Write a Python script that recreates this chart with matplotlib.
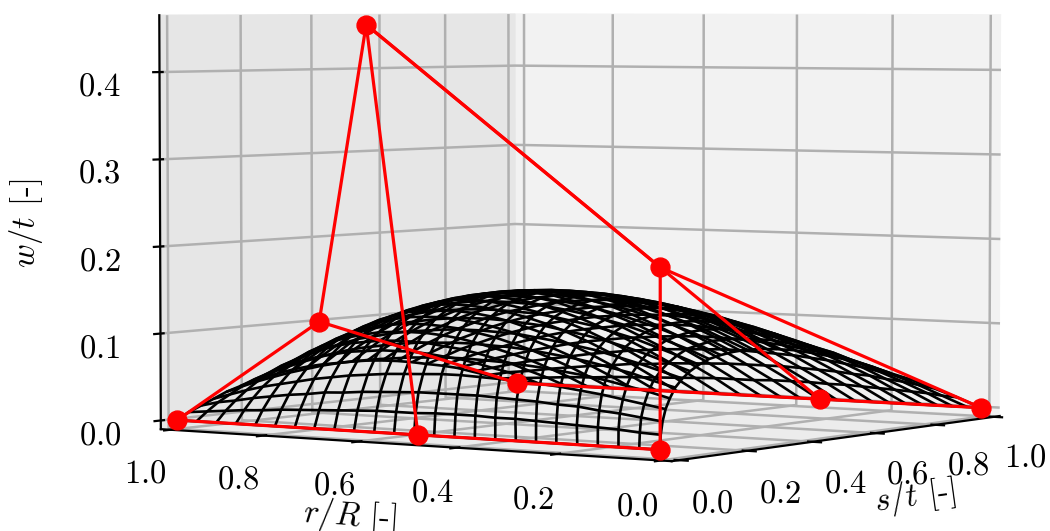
import numpy as np
import matplotlib
matplotlib.use("Agg")
import matplotlib.pyplot as plt

plt.rcParams['font.family'] = ['cmr10']
plt.rcParams['mathtext.fontset'] = 'cm'
plt.rcParams['axes.formatter.use_mathtext'] = True
plt.rcParams['axes.unicode_minus'] = False
plt.rcParams['font.size'] = 23.5
plt.rcParams['grid.linewidth'] = 1.8
plt.rcParams['axes.linewidth'] = 1.6
plt.rcParams['xtick.major.width'] = 1.6
plt.rcParams['ytick.major.width'] = 1.6

# control net
s_net = [[0, 0, 0], [0, 0, 0], [1, 1, 1]]
r_net = [[1.002, 0.493, 0.015], [0.697, 0.598, 0.015], [1.002, 0.337, 0.005]]
w_net = [[0, 0, 0], [0.121, 0.455, 0.196], [0, 0, 0]]

# surface mesh: s per row, r and w in thousandths
s_rows = [0, .0017, .0069, .0156, .0278, .0434, .0625, .0851, .1111, .1406, .1736, .2101, .25,
          .2934, .3403, .3906, .4444, .5017, .5625, .6267, .6944, .7656, .8403, .9184, 1]
r_mesh = [
    [1002,960,917,875,833,791,749,708,666,625,583,542,501,460,419,378,337,296,256,216,175,135,95,55,15],
    [978,938,898,858,819,779,739,699,659,619,579,539,499,459,418,378,338,298,257,217,177,136,96,55,15],
    [955,918,881,843,805,767,729,691,652,613,575,536,497,457,418,378,339,299,259,218,178,137,97,56,15],
    [935,900,864,829,793,756,720,683,646,608,570,533,494,456,417,378,339,299,259,219,179,138,97,56,15],
    [917,884,850,816,781,746,711,675,639,603,566,529,492,454,416,377,339,299,260,220,180,139,98,56,15],
    [901,869,837,804,771,737,703,669,634,598,562,526,489,452,415,377,338,299,260,220,180,139,98,57,15],
    [888,857,826,794,762,729,696,663,628,594,559,523,487,450,413,375,337,299,260,220,180,139,98,56,14],
    [876,846,816,785,754,722,690,657,623,589,555,520,484,448,411,374,336,298,259,219,179,139,98,56,14],
    [866,837,808,778,747,716,684,652,619,585,551,516,481,445,409,372,335,297,258,219,179,138,97,56,14],
    [859,831,801,772,741,711,679,647,615,581,548,513,478,443,407,370,333,295,256,217,178,138,97,56,14],
    [854,825,796,767,737,706,675,643,611,578,544,510,475,440,404,368,331,293,255,216,177,137,96,55,13],
    [851,822,793,763,733,703,671,640,607,574,541,507,472,437,401,365,328,291,253,214,175,135,95,54,13],
    [849,821,791,761,731,700,669,637,604,571,537,503,469,434,398,362,325,288,250,212,173,134,94,53,12],
    [851,821,791,760,729,699,666,635,601,568,535,500,465,430,394,359,322,285,248,209,171,131,92,52,12],
    [854,823,792,761,730,697,665,632,599,565,531,497,461,426,391,355,319,281,244,206,169,130,91,51,11],
    [859,828,795,764,730,698,664,631,598,562,529,493,458,423,387,351,315,278,240,203,166,128,89,51,12],
    [866,833,800,766,733,699,664,630,595,560,525,490,454,419,383,346,310,273,236,199,162,125,87,49,11],
    [876,841,806,771,736,701,665,630,594,558,523,487,451,414,378,342,305,269,232,195,159,122,84,47,10],
    [888,851,814,777,740,703,667,630,593,556,520,483,447,410,373,337,300,264,227,191,155,118,82,46,9],
    [901,862,823,784,746,707,669,631,593,555,517,480,442,405,368,332,295,259,222,186,151,115,79,44,9],
    [917,875,834,793,752,712,672,632,593,553,515,476,438,401,363,326,289,253,217,181,146,111,76,42,8],
    [935,891,847,803,760,717,675,634,593,552,512,473,434,396,358,320,283,247,211,176,141,107,73,40,7],
    [955,908,861,814,769,724,680,636,593,551,510,469,429,390,352,314,277,241,205,170,136,103,70,38,7],
    [978,926,876,827,779,731,685,639,594,551,508,466,425,385,346,308,270,234,199,164,131,98,66,36,6],
    [1002,947,893,841,790,739,690,642,596,550,506,462,420,379,339,301,263,227,192,158,125,93,63,33,5],
]
w_mesh = [
    [0,0,0,0,0,0,0,0,0,0,0,0,0,0,0,0,0,0,0,0,0,0,0,0,0],
    [10,12,14,16,17,19,20,21,22,23,24,24,24,25,25,25,24,24,23,22,21,20,19,17,16],
    [18,23,26,30,33,36,38,41,42,44,45,46,47,47,47,47,46,45,44,42,41,38,36,33,30],
    [26,32,38,43,47,51,55,58,61,63,65,66,67,68,68,67,66,65,63,61,58,55,51,47,43],
    [34,41,48,54,60,65,70,74,77,80,82,84,85,86,86,85,84,82,80,77,74,70,65,60,54],
    [40,49,57,64,71,77,83,88,92,95,98,100,101,102,102,101,100,98,95,92,88,83,78,71,65],
    [45,55,65,73,81,88,94,100,104,108,111,113,115,116,116,115,114,111,108,104,100,94,88,81,74],
    [50,61,71,81,89,97,104,110,115,119,122,125,127,128,128,127,125,123,119,115,110,104,97,89,81],
    [54,66,77,87,96,104,112,118,123,128,132,134,136,137,137,136,135,132,128,124,118,112,104,96,87],
    [57,69,81,92,101,110,118,124,130,135,139,142,144,145,145,144,142,139,135,130,125,118,110,102,92],
    [59,72,84,95,105,114,122,129,135,140,144,147,149,150,150,149,147,144,140,135,129,122,114,105,95],
    [60,73,86,97,107,116,125,132,138,143,147,150,152,153,153,152,150,147,143,138,132,125,117,108,97],
    [60,74,86,98,108,117,125,133,139,144,148,151,153,154,154,153,151,148,144,139,133,126,118,108,98],
    [60,73,86,97,107,116,125,132,138,143,147,150,152,153,153,152,150,147,143,138,132,125,117,108,97],
    [59,72,84,95,105,114,122,129,135,140,144,147,149,150,150,149,147,144,140,135,129,122,114,105,95],
    [57,69,81,92,101,110,118,124,130,135,139,142,144,145,145,144,142,139,135,130,125,118,110,102,92],
    [54,66,77,87,96,104,112,118,123,128,132,134,136,137,137,136,135,132,128,124,118,112,104,96,87],
    [50,61,71,81,89,97,104,110,115,119,122,125,127,128,128,127,125,123,119,115,110,104,97,89,81],
    [45,55,65,73,81,88,94,100,104,108,111,113,115,116,116,115,114,111,108,104,100,94,88,81,74],
    [40,49,57,64,71,77,83,88,92,95,98,100,101,102,102,101,100,98,95,92,88,83,78,71,65],
    [34,41,48,54,60,65,70,74,77,80,82,84,85,86,86,85,84,82,80,77,74,70,65,60,54],
    [26,32,38,43,47,51,55,58,61,63,65,66,67,68,68,67,66,65,63,61,58,55,51,47,43],
    [18,23,26,30,33,36,38,41,42,44,45,46,47,47,47,47,46,45,44,42,41,38,36,33,30],
    [10,12,14,16,17,19,20,21,22,23,24,24,24,25,25,25,24,24,23,22,21,20,19,17,16],
    [0,0,0,0,0,0,0,0,0,0,0,0,0,0,0,0,0,0,0,0,0,0,0,0,0],
]
st_ticks = [0, .2, .4, .6, .8, 1.0]
rR_ticks = [0, .2, .4, .6, .8, 1.0]
wt_ticks = [0, .1, .2, .3, .4]


def main():
    fig = plt.figure(figsize=(10.5, 5.31), dpi=100)
    size = 919.11
    ax = fig.add_axes([114.84/1050, -160.10/531, size/1050, size/531], projection='3d', computed_zorder=False)
    ax.view_init(elev=2.5, azim=-145.5)
    ax.set_box_aspect((4, 4, 2.7))
    ax.set_xlim(-1/48, 1 + 1/48)
    ax.set_ylim(-1/48, 1 + 1/48)
    ax.set_zlim(-.01, .465)
    ax.set_xticks(st_ticks)
    ax.set_yticks(rR_ticks)
    ax.set_zticks(wt_ticks)
    for axis, c in zip((ax.xaxis, ax.yaxis, ax.zaxis), (.95, .9, .925)):
        axis.set_pane_color((c, c, c, 1))
    ax.tick_params(axis='x', pad=13)
    ax.tick_params(axis='y', pad=14)
    ax.tick_params(axis='z', pad=16)
    ax.zaxis.set_rotate_label(False)
    ax.set_xlabel('$s/t$ [-]', labelpad=24)
    ax.set_ylabel('$r/R$ [-]', labelpad=30)
    ax.set_zlabel('$w/t$ [-]', rotation=90, labelpad=32)

    s = np.tile(np.array(s_rows)[:, None], (1, 25))
    r = np.array(r_mesh) / 1000
    w = np.array(w_mesh) / 1000
    ax.plot_wireframe(s, r, w, color='k', lw=1.9, rstride=1, cstride=1, zorder=1)
    ax.plot_wireframe(np.array(s_net), np.array(r_net), np.array(w_net), color='r', lw=2.3, rstride=1, cstride=1, zorder=2)
    ax.scatter(s_net, r_net, w_net, color='r', s=185, depthshade=False, zorder=3)
    fig.savefig('out.png', dpi=100)


main()
